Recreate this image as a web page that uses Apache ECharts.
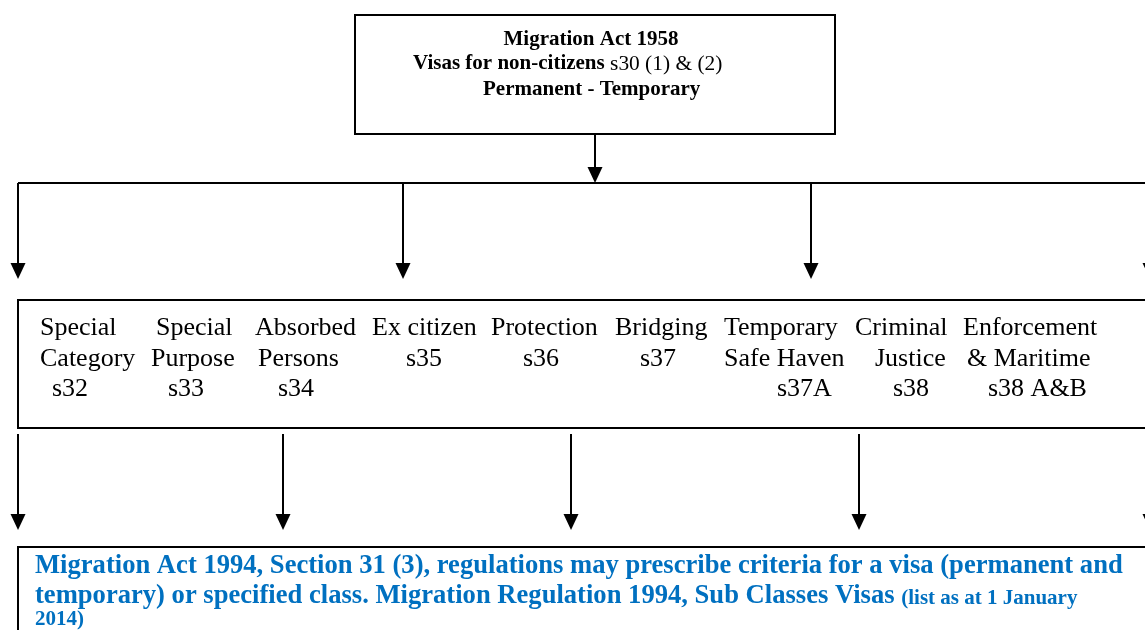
<!DOCTYPE html>
<html>
<head>
<meta charset="utf-8">
<title>Migration Act 1958 - visa classes</title>
<script src="https://cdn.jsdelivr.net/npm/echarts@6/dist/echarts.min.js"></script>
<style>
  html, body { margin: 0; padding: 0; background: #fff; }
  #chart { width: 1145px; height: 630px; }
</style>
</head>
<body>
<div id="chart"></div>
<script>
// labels of the diagram
const actTitle = 'Migration Act 1958';
const actSubtitle = ['Visas for non-citizens', ' s30 (1) & (2)'];
const actKinds = 'Permanent - Temporary';

const classNames = [
  ['Special', 'Category'],
  ['Special', 'Purpose'],
  ['Absorbed', 'Persons'],
  ['Ex citizen'],
  ['Protection'],
  ['Bridging'],
  ['Temporary', 'Safe Haven'],
  ['Criminal', 'Justice'],
  ['Enforcement', '& Maritime']
];
const classSections = ['s32', 's33', 's34', 's35', 's36', 's37', 's37A', 's38', 's38 A&B'];

const regLines = [
  'Migration Act 1994, Section 31 (3), regulations may prescribe criteria for a visa (permanent and',
  'temporary) or specified class. Migration Regulation 1994, Sub Classes Visas '
];
const regNote = ['(list as at 1 January', '2014)'];

// layout (pixel space of the page, mapped by hidden value axes)
const boxes = [
  [355, 15, 835, 134],
  [18, 300, 1170, 428],
  [18, 547, 1170, 660]
];
const connectors = [
  [[595, 134], [595, 168]],
  [[18, 183], [1170, 183]],
  [[18, 183], [18, 265]],
  [[403, 183], [403, 265]],
  [[811, 183], [811, 265]],
  [[1150, 183], [1150, 265]],
  [[18, 434], [18, 516]],
  [[283, 434], [283, 516]],
  [[571, 434], [571, 516]],
  [[859, 434], [859, 516]],
  [[1150, 434], [1150, 516]]
];
const arrowTips = [
  [595, 183],
  [18, 279], [403, 279], [811, 279], [1150, 279],
  [18, 530], [283, 530], [571, 530], [859, 530], [1150, 530]
];
const classLineX = [
  [40, 40, 52],
  [156, 151, 168],
  [255, 258, 278],
  [372, 406],
  [491, 523],
  [615, 640],
  [724, 724, 777],
  [855, 875, 893],
  [963, 967, 988]
];
const classLineY = [328, 359, 389];

const serif = "'Liberation Serif', 'Times New Roman', serif";
const blue = '#0070C0';

// text items built from the labels above
const texts = [];
texts.push({ x: 591, y: 40, align: 'center', text: '{b|' + actTitle + '}' });
texts.push({ x: 413, y: 64, align: 'left', text: '{b|' + actSubtitle[0] + '}{n|' + actSubtitle[1] + '}' });
texts.push({ x: 483, y: 90, align: 'left', text: '{b|' + actKinds + '}' });
classNames.forEach((names, i) => {
  names.concat(classSections[i]).forEach((t, j) => {
    texts.push({ x: classLineX[i][j], y: classLineY[j], align: 'left', text: '{m|' + t + '}' });
  });
});
texts.push({ x: 35, y: 566, align: 'left', text: '{r|' + regLines[0] + '}' });
texts.push({ x: 35, y: 596, align: 'left', text: '{r|' + regLines[1] + '}{rs|' + regNote[0] + '}' });
texts.push({ x: 35, y: 620, align: 'left', text: '{rs|' + regNote[1] + '}' });

const rich = {
  b: { fontFamily: serif, fontSize: 21, fontWeight: 'bold', fill: '#000', verticalAlign: 'bottom' },
  n: { fontFamily: serif, fontSize: 21.4, fill: '#000', verticalAlign: 'bottom' },
  m: { fontFamily: serif, fontSize: 26, fill: '#000' },
  r: { fontFamily: serif, fontSize: 26.6, fontWeight: 'bold', fill: blue, verticalAlign: 'bottom' },
  rs: { fontFamily: serif, fontSize: 21, fontWeight: 'bold', fill: blue, verticalAlign: 'bottom' }
};

const chart = echarts.init(document.getElementById('chart'));
chart.setOption({
  animation: false,
  grid: { left: 0, right: 0, top: 0, bottom: 0 },
  xAxis: { type: 'value', min: 0, max: 1145, show: false },
  yAxis: { type: 'value', min: 0, max: 630, inverse: true, show: false },
  series: [
    {
      name: 'boxes',
      type: 'custom',
      silent: true,
      data: boxes,
      renderItem: (params, api) => {
        const p1 = api.coord([api.value(0), api.value(1)]);
        const p2 = api.coord([api.value(2), api.value(3)]);
        return {
          type: 'rect',
          shape: { x: p1[0], y: p1[1], width: p2[0] - p1[0], height: p2[1] - p1[1] },
          style: { fill: 'none', stroke: '#000', lineWidth: 2 }
        };
      }
    },
    {
      name: 'connectors',
      type: 'lines',
      coordinateSystem: 'cartesian2d',
      silent: true,
      symbol: 'none',
      lineStyle: { color: '#000', width: 2, opacity: 1 },
      data: connectors.map(c => ({ coords: c }))
    },
    {
      name: 'arrows',
      type: 'custom',
      silent: true,
      data: arrowTips,
      renderItem: (params, api) => {
        const tip = api.coord([api.value(0), api.value(1)]);
        return {
          type: 'polygon',
          shape: { points: [[tip[0] - 7.5, tip[1] - 16], [tip[0] + 7.5, tip[1] - 16], [tip[0], tip[1]]] },
          style: { fill: '#000' }
        };
      }
    },
    {
      name: 'labels',
      type: 'custom',
      silent: true,
      data: texts.map(t => [t.x, t.y]),
      renderItem: (params, api) => {
        const item = texts[params.dataIndex];
        const p = api.coord([api.value(0), api.value(1)]);
        return {
          type: 'text',
          x: p[0],
          y: p[1],
          style: {
            text: item.text,
            rich: rich,
            align: item.align,
            verticalAlign: 'middle'
          }
        };
      }
    }
  ]
});
</script>
</body>
</html>
